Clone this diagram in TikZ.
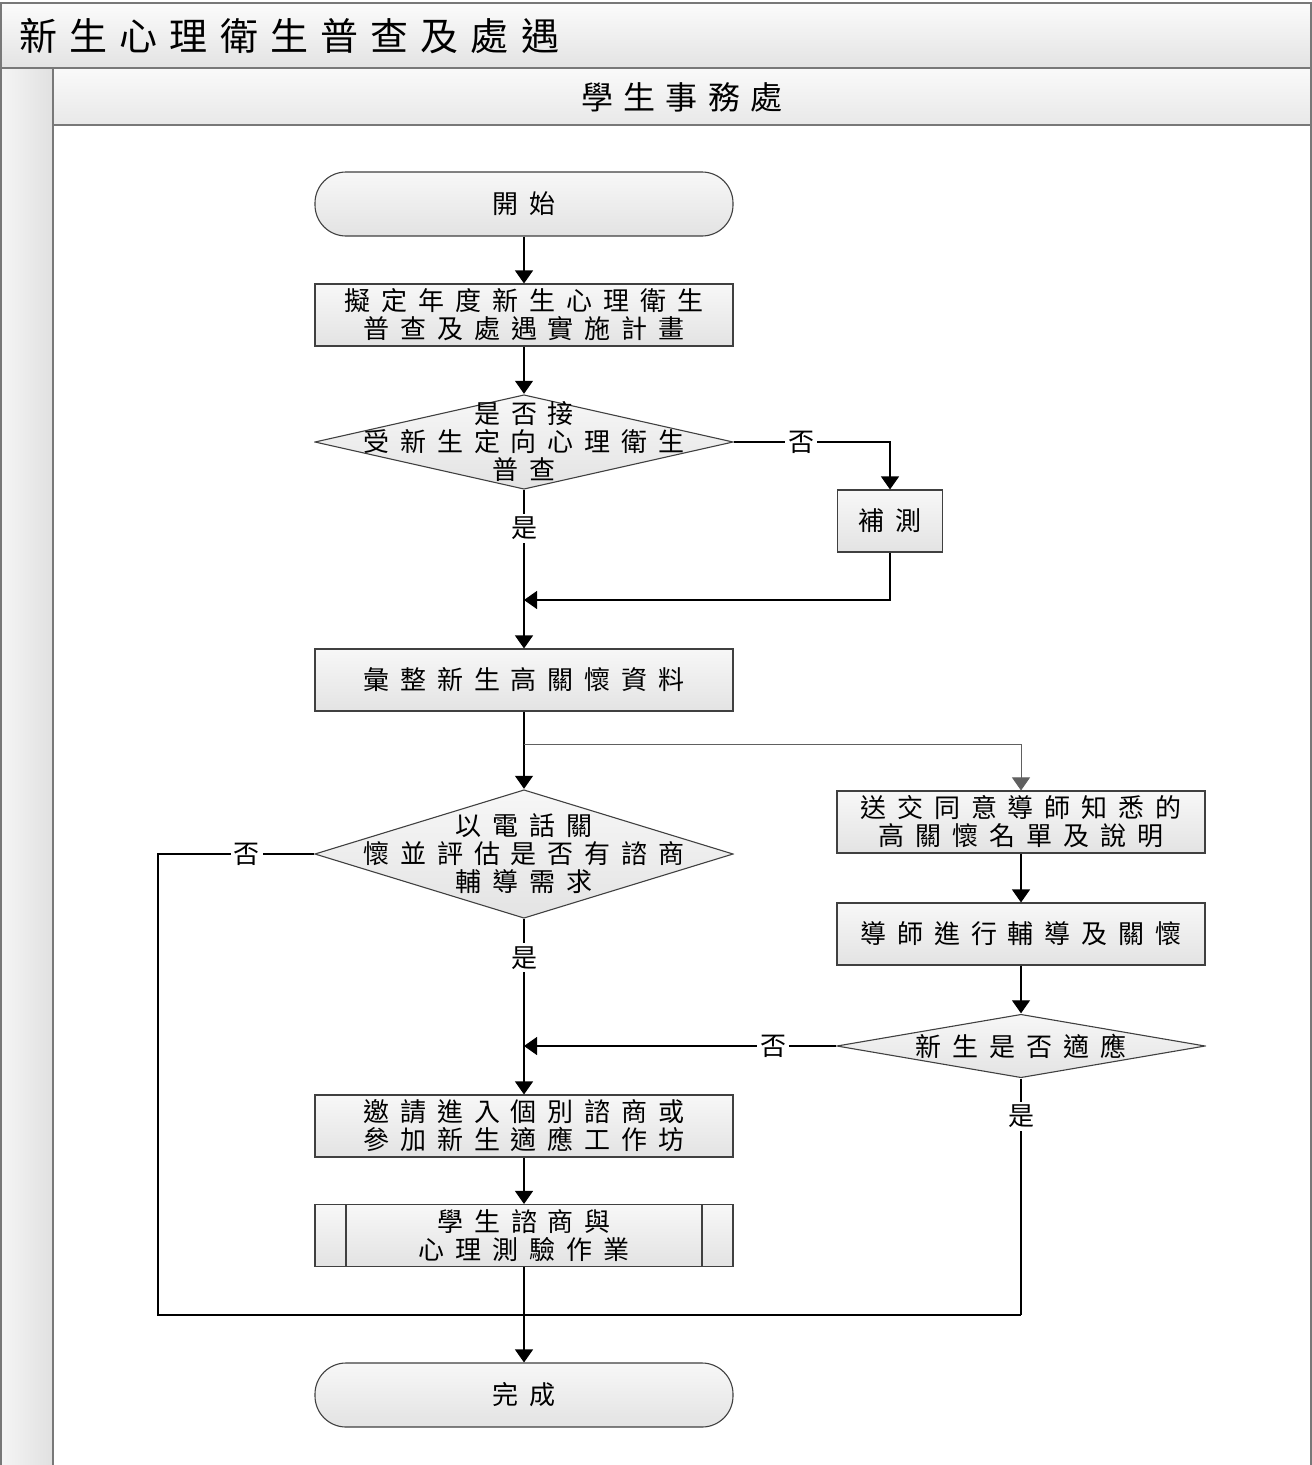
\documentclass[tikz,border=0pt]{standalone}
\usepackage{fontspec}
\setmainfont{Noto Sans CJK TC}
\newfontfamily\boxfont{Noto Sans CJK TC}[LetterSpace=42]
\newfontfamily\headfont{Noto Sans CJK TC}[LetterSpace=32]
\usetikzlibrary{arrows.meta, calc}
\definecolor{edgegray}{RGB}{64,64,64}
\definecolor{framegray}{RGB}{120,120,120}
\definecolor{branchgray}{RGB}{96,96,96}

\begin{document}
\begin{tikzpicture}[x=1pt, y=-1pt,
  every node/.style={font=\boxfont\fontsize{26pt}{28pt}\selectfont},
  shadefill/.style={top color=gray!6, bottom color=gray!22, draw=edgegray, line width=1.1pt},
  procbox/.style={shadefill, rectangle, minimum width=418pt, minimum height=62pt, inner sep=0pt, align=center},
  termbox/.style={procbox, rounded corners=31pt, minimum height=64pt},
  subbox/.style={procbox, path picture={
      \draw[edgegray, line width=1.1pt]
        ([xshift=31pt]path picture bounding box.north west) -- ([xshift=31pt]path picture bounding box.south west)
        ([xshift=-31pt]path picture bounding box.north east) -- ([xshift=-31pt]path picture bounding box.south east);}},
  decbox/.style={rectangle, inner sep=0pt, align=center, path picture={
      \draw[shadefill]
        ([xshift=1pt]path picture bounding box.west) -- ([yshift=-1pt]path picture bounding box.north)
        -- ([xshift=-1pt]path picture bounding box.east) -- ([yshift=1pt]path picture bounding box.south) -- cycle;}},
  lbl/.style={fill=white, inner sep=3pt, font=\rmfamily\fontsize{26pt}{28pt}\selectfont},
  line/.style={draw=black, line width=1.1pt},
  arr/.style={line, -{Triangle[width=18pt,length=13pt]}},
  garr/.style={draw=branchgray, line width=0.9pt, -{Triangle[width=18pt,length=13pt]}}
]
  \useasboundingbox (0,0) rectangle (1312,1465);

  % swimlane frame
  \shade[top color=gray!3, bottom color=gray!22] (1,3) rectangle (1311,68);
  \shade[left color=gray!8, right color=gray!24] (1,68) rectangle (53,1465);
  \shade[top color=gray!4, bottom color=gray!18] (53,68) rectangle (1311,125);
  \fill[white] (53,125) rectangle (1311,1465);
  \draw[framegray, line width=1.2pt] (1,1465) -- (1,3) -- (1311,3) -- (1311,1465);
  \draw[framegray, line width=1.2pt] (1,68) -- (1311,68) (53,68) -- (53,1465) (53,125) -- (1311,125);

  \node[anchor=west, font=\headfont\fontsize{38pt}{40pt}\selectfont] (title) at (16,36) {新生心理衛生普查及處遇};
  \node[font=\headfont\fontsize{32pt}{34pt}\selectfont] (lane) at (682,97) {學生事務處};

  % steps
  \node[termbox] (start) at (524,204) {開始};
  \node[procbox] (plan) at (524,315) {擬定年度新生心理衛生\\普查及處遇實施計畫};
  \node[decbox, minimum width=420pt, minimum height=96pt] (chk) at (524,442) {是否接\\受新生定向心理衛生\\普查};
  \node[procbox, minimum width=105pt] (retest) at (890,521) {補測};
  \node[procbox] (collect) at (524,680) {彙整新生高關懷資料};
  \node[decbox, minimum width=420pt, minimum height=130pt] (phone) at (524,854) {以電話關\\懷並評估是否有諮商\\輔導需求};
  \node[procbox, minimum width=368pt] (notify) at (1021,822) {送交同意導師知悉的\\高關懷名單及說明};
  \node[procbox, minimum width=368pt] (tutor) at (1021,934) {導師進行輔導及關懷};
  \node[decbox, minimum width=370pt, minimum height=65pt] (adapt) at (1021,1046) {新生是否適應};
  \node[procbox] (invite) at (524,1126) {邀請進入個別諮商或\\參加新生適應工作坊};
  \node[subbox] (sub) at (524,1235.5) {學生諮商與\\心理測驗作業};
  \node[termbox] (finish) at (524,1395) {完成};

  \coordinate (join1) at (524,600);
  \coordinate (split) at (524,744);
  \coordinate (cornerL) at (158,1315);
  \coordinate (cornerR) at (1021,1315);

  % connectors
  \draw[arr] (start) -- (plan);
  \draw[arr] (plan) -- (chk);
  \draw[arr] (chk.east) -- node[lbl, pos=0.43] {否} (chk.east -| retest.north) -- (retest.north);
  \draw[arr] (chk.south) -- node[lbl, pos=0.24] {是} (collect.north);
  \draw[arr] (retest.south) |- (join1);
  \draw[arr] (collect.south) -- (phone.north);
  \draw[garr] (split) -| (notify.north);
  \draw[arr] (notify) -- (tutor);
  \draw[arr] (tutor) -- (adapt.north);
  \draw[arr] (adapt.west) -- node[lbl, pos=0.2] {否} (adapt.west -| invite.north);
  \draw[arr] (phone.south) -- node[lbl, pos=0.22] {是} (invite.north);
  \draw[arr] (invite) -- (sub);
  \draw[line] (phone.west) -- node[lbl, pos=0.43] {否} (phone.west -| cornerL) -- (cornerL) -- (cornerR);
  \draw[line] (adapt.south) -- node[lbl, pos=0.16] {是} (cornerR);
  \draw[arr] (sub) -- (finish);
\end{tikzpicture}
\end{document}
